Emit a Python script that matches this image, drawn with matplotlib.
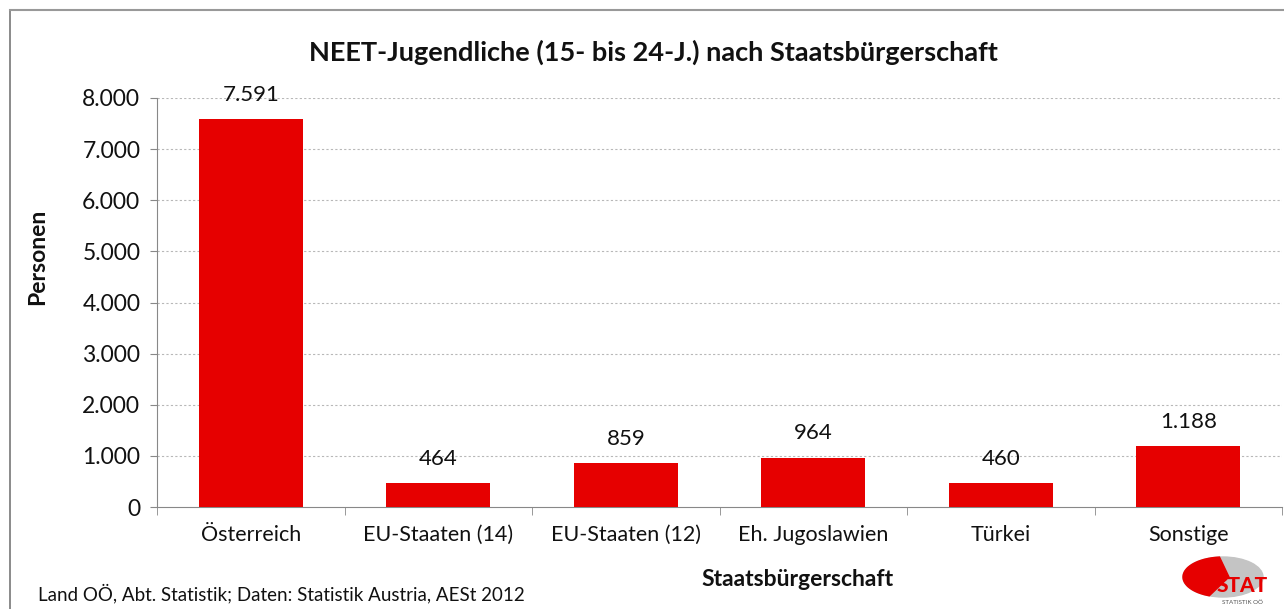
import matplotlib
matplotlib.use("Agg")
import matplotlib.pyplot as plt
from matplotlib.lines import Line2D
from matplotlib.patches import Ellipse, Polygon
from matplotlib.ticker import FuncFormatter, FixedLocator
import numpy as np

categories = ["Österreich", "EU-Staaten (14)", "EU-Staaten (12)", "Eh. Jugoslawien", "Türkei", "Sonstige"]
values = [7591, 464, 859, 964, 460, 1188]
yticks = [0, 1000, 2000, 3000, 4000, 5000, 6000, 7000, 8000]

plt.rcParams['font.family'] = ['Lato', 'DejaVu Sans']

W, H = 1284, 609
fig = plt.figure(figsize=(W / 100, H / 100), dpi=100)
ax = fig.add_axes([157 / W, 1 - 507 / H, (1282 - 157) / W, (507 - 98) / H])

def fmt(v):
    return f"{int(v):,}".replace(",", ".")

x = np.arange(len(categories))
ax.bar(x, values, width=0.555, color="#E60000", zorder=3)
for xi, v in zip(x, values):
    ax.annotate(fmt(v), (xi, v), xytext=(0, 17.5), textcoords="offset points",
                ha="center", va="center", fontsize=16, color="#111111")

ax.set_xlim(-0.5, len(categories) - 0.5)
ax.set_ylim(0, 8000)
ax.set_yticks(yticks)
ax.yaxis.set_major_formatter(FuncFormatter(lambda v, p: fmt(v)))
ax.tick_params(axis="y", labelsize=16.5, length=5, color="#888888", pad=7, labelcolor="#111111")
ax.set_xticks(x)
ax.set_xticklabels(categories, fontsize=15.5, color="#111111")
ax.tick_params(axis="x", length=0, pad=13)
ax.xaxis.set_minor_locator(FixedLocator(np.arange(-0.5, len(categories), 1.0)))
ax.tick_params(axis="x", which="minor", length=6, color="#888888")

for g in yticks[1:]:
    ax.axhline(g, color="#B8B8B8", linestyle=(0, (2, 2)), linewidth=0.8, zorder=1)

for s in ["top", "right"]:
    ax.spines[s].set_visible(False)
ax.spines["left"].set_color("#888888")
ax.spines["bottom"].set_color("#888888")

fig.text(653 / W, 1 - 52 / H, "NEET-Jugendliche (15- bis 24-J.) nach Staatsbürgerschaft",
         ha="center", va="center", fontsize=19.5, fontweight="bold", color="#111111")
fig.text(38 / W, 1 - 257 / H, "Personen", rotation=90, ha="center", va="center",
         fontsize=16.5, fontweight="bold", color="#111111")
fig.text(797 / W, 1 - 579 / H, "Staatsbürgerschaft", ha="center", va="center",
         fontsize=16.5, fontweight="bold", color="#111111")
fig.text(38 / W, 1 - 593 / H, "Land OÖ, Abt. Statistik; Daten: Statistik Austria, AESt 2012",
         ha="left", va="center", fontsize=13.5, color="#111111")

# border
fig.add_artist(Line2D([10 / W, 10 / W], [0, 1 - 10 / H], color="#777777", lw=1.2))
fig.add_artist(Line2D([10 / W, 1], [1 - 10 / H, 1 - 10 / H], color="#999999", lw=1.5))

# logo (decoration)
lax = fig.add_axes([1176 / W, 1 - 609 / H, 108 / W, 56 / H])
lax.set_xlim(1176, 1284)
lax.set_ylim(609, 553)
lax.axis("off")
cx, cy, rx, ry = 1223, 577, 40, 20
lax.add_patch(Ellipse((cx, cy), 2 * rx, 2 * ry, color="#C4C4C4"))
t = np.linspace(np.deg2rad(95), np.deg2rad(250), 60)
pts = [(cx + rx * np.cos(a), cy - ry * np.sin(a)) for a in t] + [(cx + 6, cy)]
lax.add_patch(Polygon(pts, closed=True, color="#E60000"))
lax.text(1242, 585, "STAT", ha="center", va="center", fontsize=15, fontweight="black",
         color="#E60000", clip_on=False)
lax.text(1242, 603, "STATISTIK OÖ", ha="center", va="center", fontsize=4.5, color="#555555",
         clip_on=False)

fig.savefig("out.png", dpi=100)
